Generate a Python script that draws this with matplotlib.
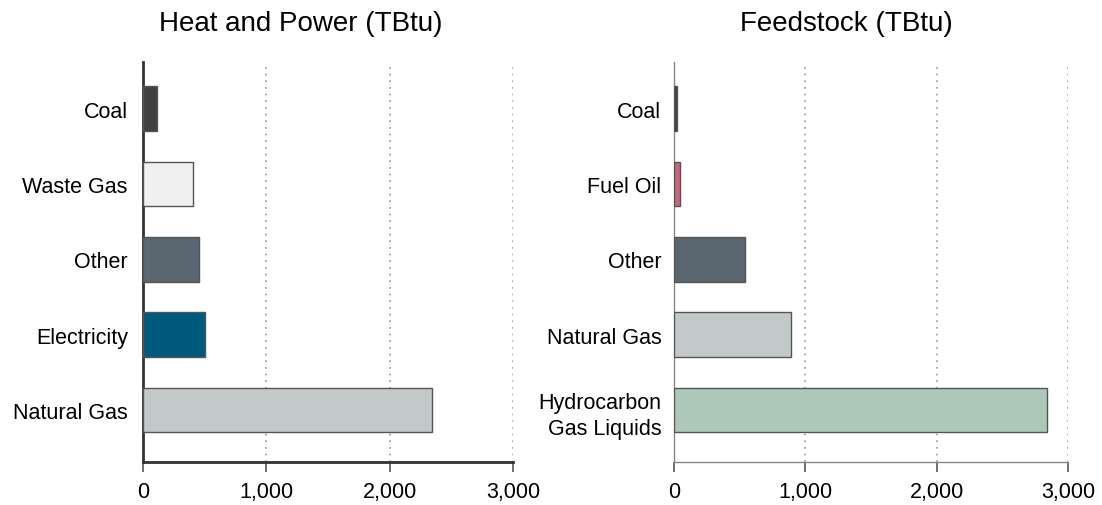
import numpy as np
import matplotlib.pyplot as plt
from matplotlib.ticker import FuncFormatter

# ============================== Data ==========================================
hp_labels = ['Natural Gas', 'Electricity', 'Other', 'Waste Gas', 'Coal']
hp_values = [2347, 504, 455, 404, 116]
hp_colors = ['#c3c9c9', '#005a7e', '#5b6770', '#f0f0f0', '#404040']

fs_labels = ['Hydrocarbon\nGas Liquids', 'Natural Gas', 'Other', 'Fuel Oil', 'Coal']
fs_values = [2842, 893, 542, 48, 20]
fs_colors = ['#adc8b8', '#c3c9c9', '#5b6770', '#c8677a', '#404040']

xticks = [0, 1000, 2000, 3000]

plt.rcParams['font.family'] = ['Liberation Sans', 'DejaVu Sans']

# ============================== Plots =========================================
fig = plt.figure(figsize=(11.02, 5.06), dpi=100)
ax1 = fig.add_axes([0.1298, 0.085, 0.3357, 0.7905])
ax2 = fig.add_axes([0.6116, 0.085, 0.3575, 0.7905])

fmt = FuncFormatter(lambda v, p: '{:,.0f}'.format(v))


def draw(ax, labels, values, colors, spine_col, spine_w, ypad):
    y = np.arange(len(labels))
    ax.barh(y, values, height=0.59, color=colors, edgecolor='#555555',
            linewidth=1.0, zorder=3)
    ax.set_yticks(y)
    ax.set_yticklabels(labels, fontsize=15.5, linespacing=1.35)
    ax.set_ylim(-0.69, 4.62)
    ax.set_xlim(0, 3000)
    ax.set_xticks(xticks)
    ax.xaxis.set_major_formatter(fmt)
    ax.tick_params(axis='x', labelsize=15.5, length=7, width=1.2,
                   color='#555555', pad=7)
    ax.tick_params(axis='y', length=0, pad=ypad)
    for v in xticks[1:]:
        ax.axvline(v, color='#999999', linestyle=(0, (1, 3)), linewidth=1.2,
                   zorder=1)
    for s in ['top', 'right']:
        ax.spines[s].set_visible(False)
    for s in ['left', 'bottom']:
        ax.spines[s].set_color(spine_col)
        ax.spines[s].set_linewidth(spine_w)


draw(ax1, hp_labels, hp_values, hp_colors, '#333333', 2.0, 11)
draw(ax2, fs_labels, fs_values, fs_colors, '#888888', 1.0, 9)

fig.text(0.273, 0.952, 'Heat and Power (TBtu)', fontsize=20, ha='center', va='center')
fig.text(0.768, 0.952, 'Feedstock (TBtu)', fontsize=20, ha='center', va='center')

plt.savefig('out.png', dpi=100)
